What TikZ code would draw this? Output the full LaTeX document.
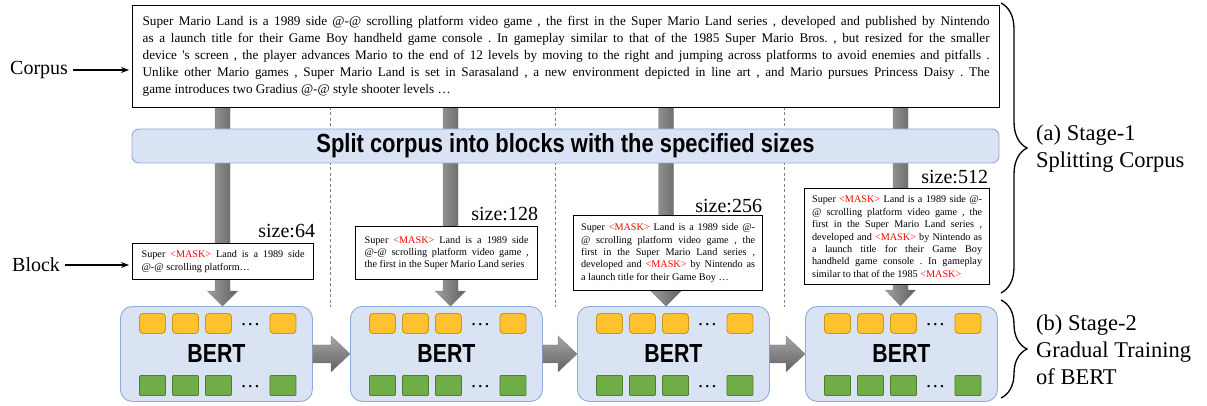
\documentclass[tikz,border=0pt]{standalone}
\usepackage{fontspec}
\setmainfont{Liberation Serif}
\newfontfamily\hsans{Liberation Sans}
\usetikzlibrary{decorations.pathreplacing,calc,arrows.meta}
\definecolor{boxblue}{HTML}{DAE3F3}
\definecolor{edgeblue}{HTML}{8FAADC}
\definecolor{tokorange}{HTML}{FFC12E}
\definecolor{tokorangeedge}{HTML}{C9951A}
\definecolor{tokgreen}{HTML}{70AD47}
\definecolor{tokgreenedge}{HTML}{507E32}
\definecolor{maskred}{HTML}{FF0000}
\newcommand{\mk}{\textcolor{maskred}{<MASK>}}
\frenchspacing
\begin{document}
\begin{tikzpicture}[x=1pt,y=-1pt,
  corpusbox/.style={draw, line width=1.3pt, fill=white, anchor=north west, inner sep=0pt,
    minimum width=867, minimum height=102, text width=847pt, align=justify,
    font=\fontsize{13.2}{17}\selectfont},
  blockbox/.style={draw, line width=1.2pt, fill=white, anchor=north west, inner sep=0pt,
    align=justify, font=\fontsize{10.2}{12.4}\selectfont},
  sizelabel/.style={anchor=base east, inner sep=0pt, font=\fontsize{20}{20}\selectfont},
  sidelabel/.style={anchor=west, inner sep=0pt, font=\fontsize{20}{20}\selectfont},
  stagelabel/.style={anchor=west, inner sep=0pt, align=left, font=\fontsize{22.5}{27}\selectfont},
  sidearrow/.style={-{Stealth[length=8pt,width=6pt]}, line width=1.2pt, shorten <=5pt, shorten >=3pt},
  banner/.style={draw=edgeblue, fill=boxblue, rounded corners=7pt, line width=0.9pt,
    minimum width=867, minimum height=34, inner sep=0pt},
  bertbox/.style={draw=edgeblue, fill=boxblue, rounded corners=12pt, line width=0.9pt,
    minimum width=192, minimum height=95, anchor=north west, inner sep=0pt},
  otok/.style={draw=tokorangeedge, fill=tokorange, rounded corners=3.5pt, line width=0.9pt,
    minimum width=26, minimum height=20, inner sep=0pt},
  gtok/.style={draw=tokgreenedge, fill=tokgreen, rounded corners=1pt, line width=0.9pt,
    minimum width=26, minimum height=20, inner sep=0pt},
  dotsty/.style={anchor=base, inner sep=0pt, font=\fontsize{20}{20}\selectfont},
  sepline/.style={draw=black!50, line width=1pt, dash pattern=on 3pt off 2.5pt},
  vshaft/.style={left color=black!38, right color=black!62, draw=black!50, line width=0.4pt},
  hshaft/.style={top color=black!35, bottom color=black!62, draw=black!50, line width=0.4pt},
  bracesty/.style={decorate, decoration={brace, amplitude=26pt}, line width=1.3pt}
]
\useasboundingbox (0,0) rectangle (1207,406);

% separators
\foreach \x [count=\k] in {330,555,784} {
  \coordinate (sepT\k) at (\x,107);
  \coordinate (sepB\k) at (\x,307);
  \draw[sepline] (sepT\k) -- (sepB\k);
}

% vertical thick arrows (corpus -> BERT)
\foreach \x/\hb [count=\k] in {222.5/291,450.5/291,666/291,900.5/290} {
  \coordinate (vs\k) at (\x,107);
  \coordinate (vt\k) at (\x,306);
  \shade[vshaft] ($(vs\k)+(-7.5,0)$) -- ($(vs\k)+(7.5,0)$) -- (\x+7.5,\hb) -- (\x+15,\hb)
    -- (vt\k) -- (\x-15,\hb) -- (\x-7.5,\hb) -- cycle;
}

% corpus
\node[corpusbox] (corpus) at (132,5) {Super Mario Land is a 1989 side @-@ scrolling platform video game , the first in the Super Mario Land series , developed and published by Nintendo\linebreak
as a launch title for their Game Boy handheld game console . In gameplay similar to that of the 1985 Super Mario Bros. , but resized for the smaller\linebreak
device \textquotesingle s screen , the player advances Mario to the end of 12 levels by moving to the right and jumping across platforms to avoid enemies and pitfalls .\linebreak
Unlike other Mario games , Super Mario Land is set in Sarasaland , a new environment depicted in line art , and Mario pursues Princess Daisy . The\linebreak
game introduces two Gradius @-@ style shooter levels …};

\node[sidelabel] (corpuslbl) at (10,70) {Corpus};
\draw[sidearrow] (corpuslbl.east) -- (corpuslbl.east -| corpus.west);

% banner
\node[banner] (split) at (565.5,146) {\resizebox{498pt}{19pt}{\hsans\bfseries Split corpus into blocks with the specified sizes}};

% blocks
\node[blockbox, minimum width=181, minimum height=36, text width=163pt] (blk1) at (132,243)
  {Super \mk{} Land is a 1989 side\linebreak @-@ scrolling platform…};
\node[blockbox, minimum width=182, minimum height=53, text width=164pt] (blk2) at (355,226)
  {Super \mk{} Land is a 1989 side\linebreak @-@ scrolling platform video game ,\linebreak the first in the Super Mario Land series};
\node[blockbox, minimum width=189, minimum height=75, text width=174pt] (blk3) at (573,215)
  {Super \mk{} Land is a 1989 side @-\linebreak @ scrolling platform video game , the\linebreak first in the Super Mario Land series ,\linebreak developed and \mk{} by Nintendo as\linebreak a launch title for their Game Boy …};
\node[blockbox, minimum width=185, minimum height=96, text width=170pt] (blk4) at (804,188)
  {Super \mk{} Land is a 1989 side @-\linebreak @ scrolling platform video game , the\linebreak first in the Super Mario Land series ,\linebreak developed and \mk{} by Nintendo as\linebreak a launch title for their Game Boy\linebreak handheld game console . In gameplay\linebreak similar to that of the 1985 \mk};

\node[sizelabel] (sz1) at ($(blk1.north east)+(1,-6)$) {size:64};
\node[sizelabel] (sz2) at ($(blk2.north east)+(0,-6)$) {size:128};
\node[sizelabel] (sz3) at ($(blk3.north east)+(-1,-3)$) {size:256};
\node[sizelabel] (sz4) at ($(blk4.north east)+(-2,-4)$) {size:512};

\node[sidelabel] (blocklbl) at (12,265) {Block};
\draw[sidearrow] (blocklbl.east) -- (blocklbl.east -| blk1.west);

% BERT boxes
\foreach \x [count=\i] in {120,350,577,805} {
  \node[bertbox] (bert\i) at (\x,306) {\resizebox{58pt}{18pt}{\hsans\bfseries BERT}};
  \foreach \dx [count=\j] in {-64,-31,2,66.5} {
    \node[otok] (o\i\j) at ($(bert\i.center)+(\dx,-30.5)$) {};
    \node[gtok] (g\i\j) at ($(bert\i.center)+(\dx,31.5)$) {};
  }
  \node[dotsty] (od\i) at ($(bert\i.center)+(34,-28)$) {…};
  \node[dotsty] (gd\i) at ($(bert\i.center)+(34,34)$) {…};
}

% horizontal arrows between BERT boxes
\foreach \a/\b in {bert1/bert2,bert2/bert3,bert3/bert4} {
  \shade[hshaft] ($(\a.east)+(0,-9)$) -- ($(\b.west)+(-19,-9)$) -- ($(\b.west)+(-19,-18)$)
    -- (\b.west) -- ($(\b.west)+(-19,18)$) -- ($(\b.west)+(-19,9)$) -- ($(\a.east)+(0,9)$) -- cycle;
}

% braces and stage labels
\coordinate (braT) at (1001,3);
\coordinate (braB) at (1001,293);
\coordinate (brbT) at (1001,300);
\coordinate (brbB) at (1001,398);
\draw[bracesty] (braT) -- (braB);
\draw[bracesty] (brbT) -- (brbB);
\node[stagelabel] (stagea) at (1036,149) {(a) Stage-1\\Splitting Corpus};
\node[stagelabel] (stageb) at (1036,350) {(b) Stage-2\\Gradual Training\\of BERT};
\end{tikzpicture}
\end{document}
